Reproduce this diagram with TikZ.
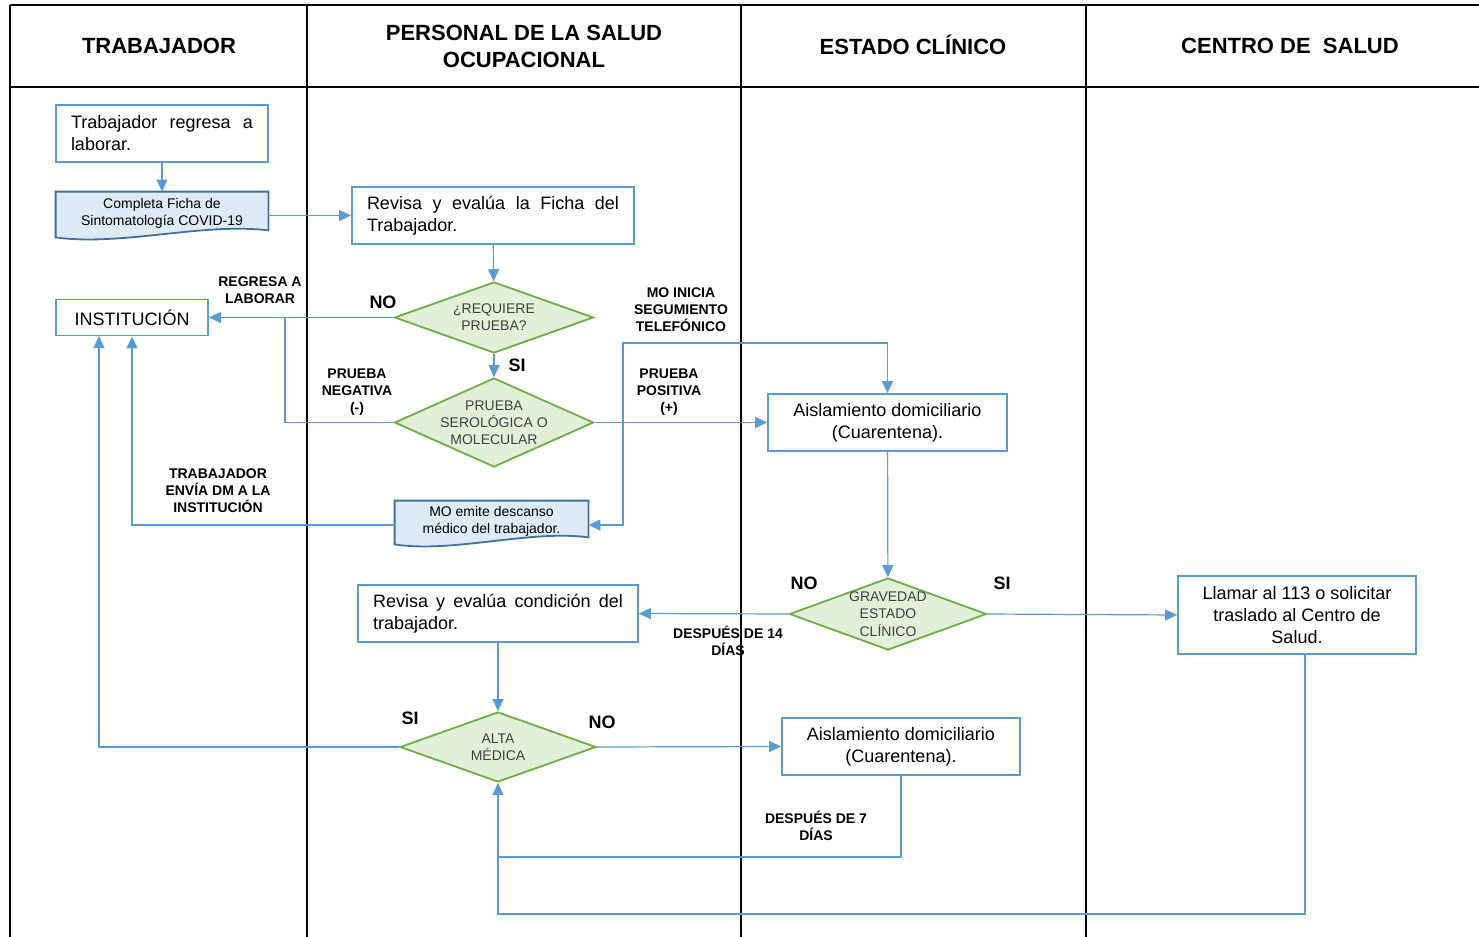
\documentclass[tikz,border=0pt]{standalone}
\usepackage{fontspec}
\setmainfont{Liberation Sans}
\usetikzlibrary{calc,positioning,arrows.meta,shapes.geometric,backgrounds}

\definecolor{boxblue}{HTML}{5B9BD5}
\definecolor{flowblue}{HTML}{5B9BD5}
\definecolor{docfill}{HTML}{DEEBF7}
\definecolor{docline}{HTML}{41719C}
\definecolor{decfill}{HTML}{E2F0D9}
\definecolor{decline}{HTML}{70AD47}
\definecolor{diagray}{HTML}{404040}

\newcommand{\dtext}[1]{\smash{\makebox[0pt]{\raisebox{-2.5pt}{\begin{tabular}{@{}c@{}}#1\end{tabular}}}}}
\newcommand{\boxfont}{\fontsize{9}{11}\selectfont\hyphenpenalty=10000\relax}

\tikzstyle{process}  = [rectangle, draw=boxblue, line width=0.9pt, fill=white, inner xsep=7.5pt, inner ysep=2pt, font=\boxfont]
\tikzstyle{docu}     = [rectangle, inner sep=1pt, align=center, font=\fontsize{7}{8.5}\selectfont]
\tikzstyle{docshape} = [draw=docline, line width=0.9pt, fill=docfill]
\tikzstyle{decision} = [diamond, draw=decline, line width=0.9pt, fill=decfill, inner sep=0pt, text=diagray, font=\fontsize{7}{8.5}\selectfont]
\tikzstyle{flow}     = [draw=flowblue, line width=0.6pt, -{Triangle[length=6pt,width=5.5pt]}]
\tikzstyle{link}     = [draw=flowblue, line width=0.6pt]
\tikzstyle{lane}     = [draw=black, line width=1pt]
\tikzstyle{head}     = [align=center, font=\fontsize{11}{13.5}\selectfont\bfseries]
\tikzstyle{tag}      = [align=center, inner sep=0pt, font=\fontsize{7}{8.5}\selectfont\bfseries]
\tikzstyle{yesno}    = [inner sep=0pt, font=\fontsize{9}{11}\selectfont\bfseries]

\begin{document}
\begin{tikzpicture}[x=0.5pt,y=-0.5pt]
    \useasboundingbox (0,0) rectangle (1479,937);

    % swimlanes
    \draw[lane] (10,5) -- (1479,5);
    \draw[lane] (10,87) -- (1479,87);
    \foreach \lx in {10,307,741,1086}
        \draw[lane] (\lx,5) -- (\lx,937);
    \node[head] (hTrab) at (159,46) {TRABAJADOR};
    \node[head] (hSalud) at (524,46) {PERSONAL DE LA SALUD\\OCUPACIONAL};
    \node[head] (hEstado) at (913,45) {ESTADO CLÍNICO};
    \node[head] (hCentro) at (1290,46) {CENTRO DE\ \ SALUD};

    % steps
    \node[process, minimum width=106pt, minimum height=28.5pt, text width=91pt, align=justify] (regresa) at (162,133.5) {Trabajador regresa a laborar.};
    \node[docu, minimum width=106pt, minimum height=21pt] (ficha) at (162,213) {Completa Ficha de\\Sintomatología COVID-19};
    \node[process, minimum width=141pt, minimum height=28.5pt, text width=126pt, align=justify] (revisa) at (493,215.5) {Revisa y evalúa la Ficha del Trabajador.};
    \node[decision, minimum width=99.5pt, minimum height=35.5pt] (requiere) at (494,317.5) {\dtext{¿REQUIERE\\PRUEBA?}};
    \node[process, minimum width=76pt, minimum height=18pt, inner xsep=2pt] (inst) at (132,317.5) {INSTITUCIÓN};
    \node[decision, minimum width=99.5pt, minimum height=44.5pt] (prueba) at (494,422.5) {\dtext{PRUEBA\\SEROLÓGICA O\\MOLECULAR}};
    \node[process, minimum width=119.5pt, minimum height=28.5pt, align=center] (aisla) at (887.5,422.5) {Aislamiento domiciliario\\(Cuarentena).};
    \node[docu, minimum width=96.5pt, minimum height=20pt] (descanso) at (491.5,521) {MO emite descanso\\médico del trabajador.};
    \node[decision, minimum width=98.5pt, minimum height=36pt] (gravedad) at (888,614) {\dtext{GRAVEDAD\\ESTADO\\CLÍNICO}};
    \node[process, minimum width=140pt, minimum height=28.5pt, text width=125pt, align=justify] (condicion) at (498,613.5) {Revisa y evalúa condición del trabajador.};
    \node[process, minimum width=119pt, minimum height=39pt, align=center] (llamar) at (1297,615) {Llamar al 113 o solicitar\\traslado al Centro de\\Salud.};
    \node[decision, minimum width=98pt, minimum height=35pt] (alta) at (498,747) {\dtext{ALTA\\MÉDICA}};
    \node[process, minimum width=119pt, minimum height=28.5pt, align=center] (aisla2) at (901,746.5) {Aislamiento domiciliario\\(Cuarentena).};

    % document shapes
    \begin{scope}[on background layer]
        \foreach \d in {ficha,descanso}
            \draw[docshape] (\d.north west) -- (\d.north east) -- ([yshift=2pt]\d.south east)
                .. controls ([xshift=20pt,yshift=6pt]\d.south) and ([xshift=-20pt,yshift=-6pt]\d.south)
                .. ([yshift=-1.5pt]\d.south west) -- cycle;
    \end{scope}

    % bends
    \coordinate (neg) at (285,317.5);
    \coordinate (split) at (623,422.5);
    \coordinate (tel) at (623,343);
    \coordinate (altax) at (99,336);

    % connectors
    \draw[flow] (regresa) -- (ficha);
    \draw[flow] (revisa.west -| ficha.east) -- (revisa.west);
    \draw[flow] (revisa) -- (requiere);
    \draw[flow] (requiere.west) -- (inst.east);
    \draw[flow] (requiere) -- (prueba);
    \draw[link] (prueba.west) -| (neg);
    \draw[flow] (prueba.east) -- (aisla.west);
    \draw[flow] (split) -- (tel) -| (aisla.north);
    \draw[flow] (split) |- ([yshift=-2pt]descanso.east);
    \draw[flow] ([yshift=-2pt]descanso.west) -| (inst.south);
    \draw[flow] (aisla) -- (gravedad);
    \draw[flow] (gravedad.west) -- (condicion.east);
    \draw[flow] (gravedad.east) -- (llamar.west);
    \draw[flow] (condicion) -- (alta);
    \draw[flow] (alta.west) -| (altax);
    \draw[flow] (alta.east) -- (aisla2.west);
    \draw[flow] (aisla2.south) |- ([yshift=-37pt]alta.south) -- (alta.south);
    \draw[link] ([xshift=4pt]llamar.south) |- ([yshift=-65.5pt]alta.south) -- ([yshift=-37pt]alta.south);

    % labels
    \node[tag] (tRegresa) at (260,290) {REGRESA A\\LABORAR};
    \node[yesno] (noReq) at (383,302) {NO};
    \node[yesno] (siReq) at (517,365) {SI};
    \node[tag] (tNeg) at (357,392) {PRUEBA\\NEGATIVA\\(-)};
    \node[tag] (tTel) at (681,310) {MO INICIA\\SEGUMIENTO\\TELEFÓNICO};
    \node[tag] (tPos) at (669,392) {PRUEBA\\POSITIVA\\(+)};
    \node[tag] (tEnvia) at (218,491) {TRABAJADOR\\ENVÍA DM A LA\\INSTITUCIÓN};
    \node[yesno] (noGrav) at (804,583) {NO};
    \node[yesno] (siGrav) at (1002,583) {SI};
    \node[tag] (t14) at (728,641) {DESPUÉS DE 14\\DÍAS};
    \node[yesno] (siAlta) at (410,718) {SI};
    \node[yesno] (noAlta) at (602,722) {NO};
    \node[tag] (t7) at (816,826) {DESPUÉS DE 7\\DÍAS};
\end{tikzpicture}
\end{document}
